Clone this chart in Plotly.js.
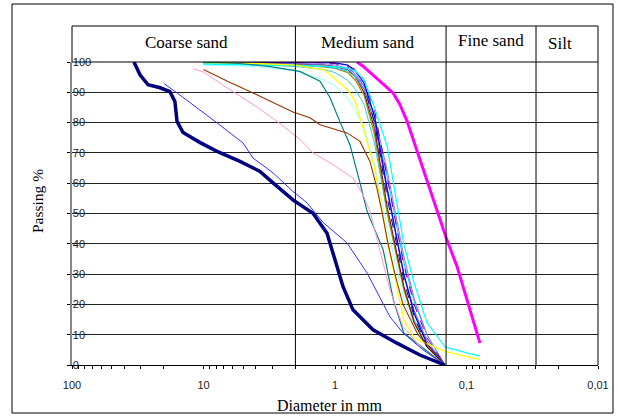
<!DOCTYPE html>
<html>
<head>
<meta charset="utf-8">
<script src="https://cdn.plot.ly/plotly-3.0.1.min.js"></script>
<style>html,body{margin:0;padding:0;background:#fff;}#chart{width:618px;height:418px;}</style>
</head>
<body>
<div id="chart"></div>
<script>
// ---- Data (diameter in mm, passing %) ----
const sieves = [10, 4, 2, 1.2, 1, 0.8, 0.7, 0.6, 0.5, 0.4, 0.3, 0.25, 0.2, 0.146];

const bluePass     = [100, 100, 100, 100, 99.7, 99, 97, 93, 82, 58, 30, 17, 7, 0];
const darkBluePass = [100, 100, 100, 99.8, 99.5, 98.5, 96, 92, 80, 55, 28, 16, 6, 0];
const purplePass   = [100, 100, 100, 99.8, 99.5, 98.8, 97.5, 94, 84, 62, 33, 20, 9, 0];
const maroonPass   = [100, 99.8, 99.5, 99, 98.5, 97.5, 95, 90, 78, 52, 26, 14, 6, 0];
const olivePass    = [99.8, 99.6, 99.2, 98.5, 98, 96.5, 94, 89, 76, 50, 25, 14, 6, 0];
const lightCyanPass= [99, 98.5, 97, 94, 92, 88, 84, 78, 66, 45, 22, 13, 6, 0];
const skyBluePass  = [99.5, 99.3, 99, 98.5, 98, 97, 95, 91, 80, 62, 34, 21, 10, 0];
const violetPass   = [100, 100, 99.8, 99.5, 99, 98, 96, 92, 82, 64, 36, 22, 10, 0];
const tealGreenPass= [99.5, 99.2, 98.5, 97.5, 96.5, 94, 91, 86, 73, 50, 26, 15, 6, 0];
const grayBluePass = [100, 99.8, 99.5, 99, 98.5, 97.5, 95.5, 91, 80, 57, 30, 18, 8, 0];

const cyanSize = [10, 4, 2, 1.2, 1, 0.8, 0.7, 0.6, 0.5, 0.4, 0.3, 0.25, 0.2, 0.146, 0.12, 0.1, 0.079];
const cyanPass = [99.3, 99.1, 98.8, 98.6, 98.5, 98, 97, 94, 85, 72, 40, 27, 14, 6, 5, 4, 3];

const yellowSize = [10, 4, 2, 1.2, 1, 0.8, 0.7, 0.6, 0.5, 0.4, 0.3, 0.25, 0.2, 0.146, 0.1, 0.079];
const yellowPass = [99.8, 99.5, 99, 97.3, 94.5, 90.8, 87, 77, 65, 41, 15, 9, 7, 4.5, 2.8, 1.8];

const tealSize = [10, 5.3, 3.1, 1.85, 1.3, 1.09, 0.92, 0.77, 0.65, 0.57, 0.43, 0.36, 0.3, 0.146];
const tealPass = [100, 99.5, 98.5, 96.9, 93.7, 88.2, 80.4, 72.7, 60.6, 50.7, 38, 21.5, 10.6, 0];

const brownSize = [10, 6.63, 4.2, 2.76, 2.09, 1.55, 1.3, 0.81, 0.646, 0.542, 0.48, 0.44, 0.395, 0.35, 0.304, 0.234, 0.146];
const brownPass = [97.5, 93.7, 89.8, 86, 83.5, 81.6, 79.3, 76.6, 73.8, 67.2, 58.4, 50.7, 40, 30, 20, 10, 0];

const pinkSize = [12, 10, 6.63, 4.2, 2.76, 1.85, 1.47, 1.035, 0.73, 0.612, 0.542, 0.455, 0.382, 0.304, 0.214, 0.146];
const pinkPass = [97.8, 96.7, 91.5, 86, 80.4, 74.5, 70, 66.1, 61.7, 56.2, 50.7, 38, 24.8, 12.7, 5, 0];

const royalSize = [20, 15.9, 7.89, 5.01, 4.2, 2.96, 2.09, 1.63, 1.23, 0.81, 0.571, 0.455, 0.382, 0.304, 0.214, 0.146];
const royalPass = [92.9, 89.8, 79.9, 73.3, 68.3, 63.4, 57.3, 53.5, 47, 40.3, 30.4, 22.5, 15.9, 10.6, 5, 0];

const navySize = [33.8, 30.4, 26.4, 21.4, 18.0, 16.5, 15.9, 14.3, 10.6, 7.89, 5.28, 3.72, 2.96, 2.09, 1.47, 1.15, 1.0, 0.87, 0.73, 0.514, 0.338, 0.226, 0.146];
const navyPass = [100, 95.8, 92.5, 91.5, 90.2, 87, 80.4, 76.7, 73.4, 70.5, 67.2, 63.9, 60.1, 54.5, 50.1, 43.5, 34.7, 25.9, 18.2, 11.6, 7.2, 3.3, 0];

const magentaSize = [0.68, 0.612, 0.362, 0.321, 0.283, 0.238, 0.2, 0.168, 0.141, 0.118, 0.099, 0.083, 0.079];
const magentaPass = [100, 98.6, 89.8, 86, 80.4, 70.5, 60.6, 50.7, 41.3, 32.5, 21.5, 10.5, 7.2];

const zoneNames = ['Coarse sand', 'Medium sand', 'Fine sand', 'Silt'];
const zoneBounds = [2, 0.143, 0.0296];
const xTickLabels = ['100', '10', '1', '0,1', '0,01'];
const xTickDecades = [100, 10, 1, 0.1, 0.01];

// ---- Traces ----
function tr(x, y, color, width, dash) {
  return {x: x, y: y, type: 'scatter', mode: 'lines', hoverinfo: 'skip',
          line: {color: color, width: width, dash: dash || 'solid'}};
}
const traces = [
  tr(sieves, lightCyanPass, '#99FFFF', 1),
  tr(sieves, tealGreenPass, '#33CCCC', 1),
  tr(sieves, olivePass, '#999900', 1.3),
  tr(sieves, maroonPass, '#800000', 1),
  tr(sieves, skyBluePass, '#00CCFF', 1),
  tr(sieves, grayBluePass, '#6666CC', 1),
  tr(sieves, darkBluePass, '#000099', 1, 'dash'),
  tr(sieves, violetPass, '#9966FF', 1),
  tr(sieves, bluePass, '#0000FF', 1.3),
  tr(sieves, purplePass, '#800080', 1, 'dash'),
  tr(cyanSize, cyanPass, '#00FFFF', 1.2),
  tr(yellowSize, yellowPass, '#FFFF00', 1.3),
  tr(tealSize, tealPass, '#008080', 1.2),
  tr(brownSize, brownPass, '#993300', 1.1),
  tr(pinkSize, pinkPass, '#FF99CC', 1),
  tr(royalSize, royalPass, '#3333FF', 1),
  tr(navySize, navyPass, '#000080', 3.5),
  tr(magentaSize, magentaPass, '#FF00FF', 3)
];

// ---- Layout ----
const L = 72, R = 20, T = 62, B = 53, W = 618, H = 418;
const pw = W - L - R, ph = H - T - B;
const px2paperX = p => (p - L) / pw;
const py2paperY = p => (H - B - p) / ph;
const dataToPaperX = v => (2 - Math.log10(v)) / 4;
const headerTop = py2paperY(26);

const tickVals = [], tickText = [];
xTickDecades.forEach((d, i) => {
  tickVals.push(d); tickText.push(xTickLabels[i]);
  if (i < xTickDecades.length - 1) {
    for (let m = 9; m >= 2; m--) { tickVals.push(d / 10 * m); tickText.push(''); }
  }
});

const lineStyle = {color: '#000', width: 1};
const shapes = [
  {type: 'rect', xref: 'paper', yref: 'paper', x0: 0, x1: 1, y0: 1, y1: headerTop, line: lineStyle},
  {type: 'line', xref: 'paper', yref: 'paper', x0: 1, x1: 1, y0: 0, y1: 1, line: lineStyle},
  {type: 'rect', xref: 'paper', yref: 'paper', x0: px2paperX(12), x1: px2paperX(613), y0: py2paperY(413), y1: py2paperY(4), line: lineStyle}
];
zoneBounds.forEach(b => shapes.push({type: 'line', xref: 'paper', yref: 'paper',
  x0: dataToPaperX(b), x1: dataToPaperX(b), y0: 0, y1: headerTop, line: lineStyle}));

const serif = 'Liberation Serif, Times New Roman, serif';
const zoneCenters = [186, 368, 491, 560];
const zoneY = [42, 42, 40, 43];
const annotations = zoneNames.map((n, i) => ({
  text: n, xref: 'paper', yref: 'paper', x: px2paperX(zoneCenters[i]), y: py2paperY(zoneY[i]),
  xanchor: 'center', yanchor: 'middle', showarrow: false, font: {family: serif, size: 17, color: '#000'}
}));
annotations.push({text: 'Diameter in mm', xref: 'paper', yref: 'paper', x: px2paperX(329), y: py2paperY(405),
  xanchor: 'center', yanchor: 'middle', showarrow: false, font: {family: serif, size: 16, color: '#000'}});
annotations.push({text: 'Passing %', xref: 'paper', yref: 'paper', x: px2paperX(37), y: py2paperY(201),
  xanchor: 'center', yanchor: 'middle', textangle: -90, showarrow: false, font: {family: serif, size: 15.5, color: '#000'}});

const tickFont = {family: 'Liberation Sans, Arial, sans-serif', size: 11, color: '#222'};
const layout = {
  width: W, height: H,
  margin: {l: L, r: R, t: T, b: B, pad: 0},
  paper_bgcolor: '#fff', plot_bgcolor: '#fff',
  showlegend: false,
  xaxis: {type: 'log', range: [2, -2], tickmode: 'array', tickvals: tickVals, ticktext: tickText,
    ticks: 'outside', ticklen: 3, tickcolor: '#000', showgrid: false, zeroline: false,
    showline: true, linecolor: '#000', linewidth: 1, tickfont: tickFont, ticklabelstandoff: 7,
    ticklabeloverflow: 'allow'},
  yaxis: {range: [0, 100], tick0: 0, dtick: 10, showgrid: true, gridcolor: '#222', gridwidth: 1,
    zeroline: false, showline: true, linecolor: '#888', linewidth: 2, ticks: 'outside', ticklen: 3,
    tickcolor: '#000', ticklabelposition: 'inside', tickfont: tickFont, ticklabeloverflow: 'allow'},
  shapes: shapes,
  annotations: annotations
};

Plotly.newPlot('chart', traces, layout, {staticPlot: true, displayModeBar: false});
</script>
</body>
</html>
